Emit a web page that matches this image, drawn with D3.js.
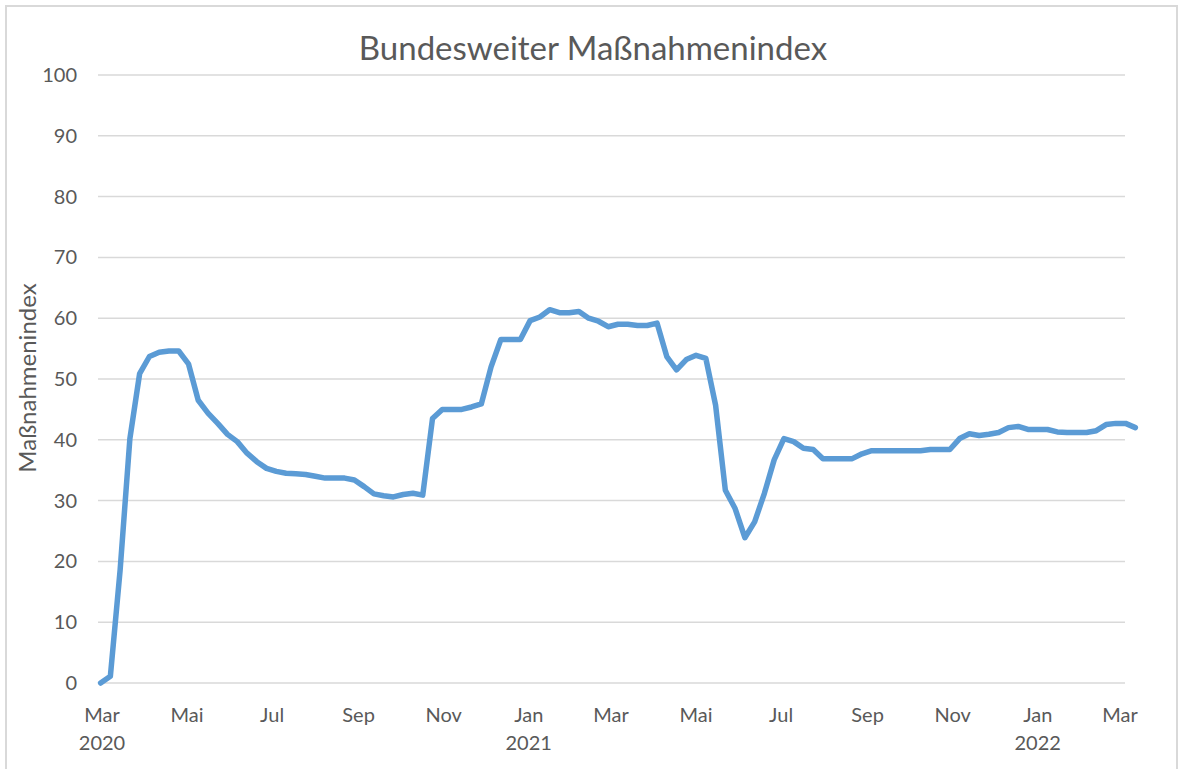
<!DOCTYPE html>
<html>
<head>
<meta charset="utf-8">
<script src="https://cdn.jsdelivr.net/npm/d3@7"></script>
<style>
  body { margin: 0; background: #fff; }
  svg { display: block; font-family: Lato, "Open Sans", sans-serif; }
</style>
</head>
<body>
<svg id="chart" width="1178" height="769"></svg>
<script>
const width = 1178, height = 769;

// weekly values, first week starts 2020-02-29
const startDate = new Date(2020, 1, 29);
const values = [
  0, 1.1, 18.6, 40.2, 50.9, 53.7, 54.4, 54.6, 54.6, 52.5,
  46.5, 44.4, 42.7, 40.9, 39.7, 37.8, 36.4, 35.3, 34.8, 34.5,
  34.4, 34.3, 34.0, 33.7, 33.7, 33.7, 33.4, 32.3, 31.1, 30.8,
  30.6, 31.0, 31.2, 30.9, 43.5, 45.0, 45.0, 45.0, 45.4, 45.9,
  52.0, 56.5, 56.5, 56.5, 59.6, 60.2, 61.4, 60.9, 60.9, 61.1,
  60.0, 59.5, 58.6, 59.0, 59.0, 58.8, 58.8, 59.2, 53.7, 51.5,
  53.2, 53.9, 53.4, 45.7, 31.7, 28.7, 23.9, 26.5, 31.2, 36.7,
  40.2, 39.7, 38.6, 38.4, 36.9, 36.9, 36.9, 36.9, 37.7, 38.2,
  38.2, 38.2, 38.2, 38.2, 38.2, 38.4, 38.4, 38.4, 40.2, 41.0,
  40.7, 40.9, 41.2, 42.0, 42.2, 41.7, 41.7, 41.7, 41.3, 41.2,
  41.2, 41.2, 41.5, 42.5, 42.7, 42.7, 42.0
];
const monthTicks = ["Mar", "Mai", "Jul", "Sep", "Nov", "Jan", "Mar", "Mai", "Jul", "Sep", "Nov", "Jan", "Mar"];
const yearLabels = ["2020", "", "", "", "", "2021", "", "", "", "", "", "2022", ""];
const yTicks = [0, 10, 20, 30, 40, 50, 60, 70, 80, 90, 100];

const data = values.map((v, i) => ({ date: d3.timeDay.offset(startDate, i * 7), value: v }));
const tickDates = monthTicks.map((m, i) => d3.timeMonth.offset(new Date(2020, 2, 1), i * 2));

const svg = d3.select("#chart");

// chart border
svg.append("rect")
  .attr("x", 6).attr("y", 6)
  .attr("width", 1171).attr("height", 775)
  .attr("fill", "none")
  .attr("stroke", "#d9d9d9")
  .attr("stroke-width", 2);

const x = d3.scaleTime()
  .domain([new Date(2020, 2, 1), new Date(2022, 2, 1)])
  .range([102, 1120]);

const y = d3.scaleLinear()
  .domain([0, 100])
  .range([683, 75]);

// gridlines
svg.append("g")
  .selectAll("line")
  .data(yTicks)
  .join("line")
  .attr("x1", 98).attr("x2", 1125)
  .attr("y1", d => y(d)).attr("y2", d => y(d))
  .attr("stroke", "#d9d9d9")
  .attr("stroke-width", 1.5);

// y labels
svg.append("g")
  .selectAll("text")
  .data(yTicks)
  .join("text")
  .attr("x", 77)
  .attr("y", d => y(d))
  .attr("dy", "0.35em")
  .attr("text-anchor", "end")
  .attr("font-size", 20)
  .attr("fill", "#595959")
  .text(d => d);

// x labels
const xl = svg.append("g");
xl.selectAll("text.m")
  .data(tickDates)
  .join("text")
  .attr("class", "m")
  .attr("x", d => x(d))
  .attr("y", 722)
  .attr("text-anchor", "middle")
  .attr("font-size", 20)
  .attr("fill", "#595959")
  .text((d, i) => monthTicks[i]);

xl.selectAll("text.yr")
  .data(tickDates)
  .join("text")
  .attr("class", "yr")
  .attr("x", d => x(d))
  .attr("y", 750)
  .attr("text-anchor", "middle")
  .attr("font-size", 20)
  .attr("fill", "#595959")
  .text((d, i) => yearLabels[i]);

// title
svg.append("text")
  .attr("x", 593).attr("y", 60)
  .attr("text-anchor", "middle")
  .attr("font-size", 33)
  .attr("fill", "#595959")
  .text("Bundesweiter Maßnahmenindex");

// y axis title
svg.append("text")
  .attr("transform", "translate(36,378) rotate(-90)")
  .attr("text-anchor", "middle")
  .attr("font-size", 24)
  .attr("fill", "#595959")
  .text("Maßnahmenindex");

// line
const line = d3.line()
  .x(d => x(d.date))
  .y(d => y(d.value));

svg.append("path")
  .datum(data)
  .attr("d", line)
  .attr("fill", "none")
  .attr("stroke", "#5b9bd5")
  .attr("stroke-width", 5.5)
  .attr("stroke-linejoin", "round")
  .attr("stroke-linecap", "round");
</script>
</body>
</html>
